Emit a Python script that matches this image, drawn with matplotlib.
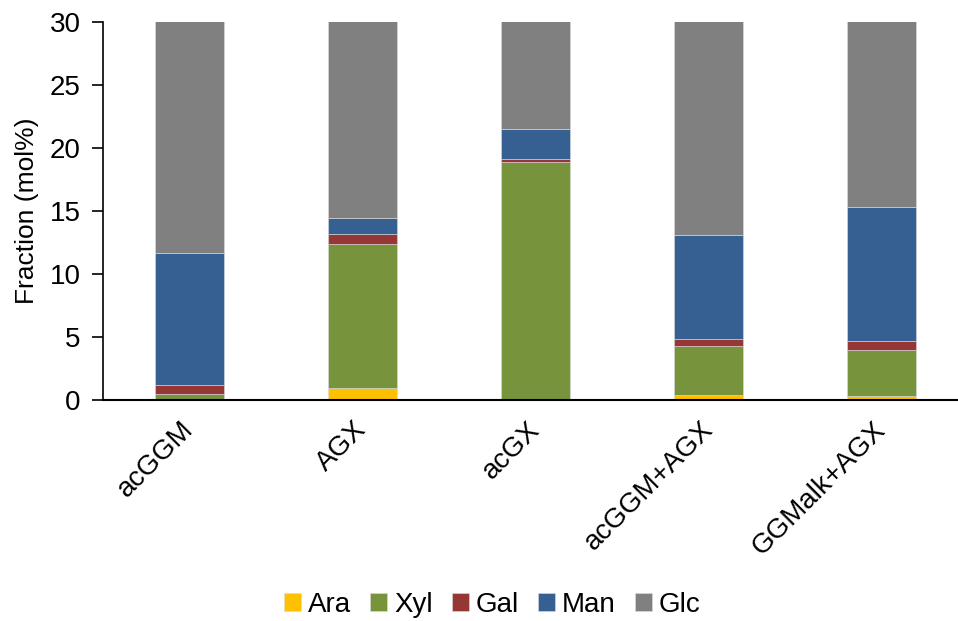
import numpy as np
import matplotlib
matplotlib.use('Agg')
import matplotlib.pyplot as plt
import matplotlib.transforms as mtransforms

plt.rcParams['font.family'] = ['Liberation Sans', 'DejaVu Sans']

samples = ['acGGM', 'AGX', 'acGX', 'acGGM+AGX', 'GGMalk+AGX']
sugars = ['Ara', 'Xyl', 'Gal', 'Man', 'Glc']

# mol% of each monosaccharide per sample (Glc runs past the 30% axis cut)
ara = [0.0, 0.95, 0.0, 0.37, 0.30]
xyl = [0.45, 11.45, 18.85, 3.94, 3.65]
gal = [0.70, 0.80, 0.30, 0.53, 0.73]
man = [10.50, 1.25, 2.35, 8.22, 10.60]
glc = [88.35, 85.55, 78.50, 86.94, 84.72]

colors = ['#FFC000', '#77933C', '#953735', '#376092', '#808080']

fig = plt.figure(figsize=(9.58, 6.21), dpi=100)
ax = fig.add_axes([0.1075, 0.3559, 0.8925, 0.6087])

x = np.arange(len(samples))
bottom = np.zeros(len(samples))
for name, vals, c in zip(sugars, [ara, xyl, gal, man, glc], colors):
    ax.bar(x, vals, width=0.4, bottom=bottom, color=c, label=name,
           edgecolor='#dcdcdc', linewidth=0.4)
    bottom += np.array(vals)

ax.set_ylim(0, 30)
ax.set_xlim(-0.5, 4.44)
ax.set_yticks(np.arange(0, 31, 5))
ax.set_xticks(x)
ax.set_xticklabels(samples, rotation=45, ha='right', rotation_mode='anchor')
ax.tick_params(axis='x', length=0, pad=12, labelsize=20)
ax.tick_params(axis='y', length=8, width=1.2, labelsize=20, direction='out', pad=8)
ax.set_ylabel('Fraction (mol%)', fontsize=19, labelpad=8)

# nudge the slanted category labels a bit to the left
shift = mtransforms.ScaledTranslation(-9 / 100, 0, fig.dpi_scale_trans)
for lab in ax.get_xticklabels():
    lab.set_transform(lab.get_transform() + shift)

for s in ['top', 'right']:
    ax.spines[s].set_visible(False)
ax.spines['left'].set_linewidth(1.2)
ax.spines['bottom'].set_linewidth(1.5)

fig.legend(loc='center', bbox_to_anchor=(0.514, 0.026), ncol=5, frameon=False,
           fontsize=20, handlelength=0.6, handleheight=0.6, handletextpad=0.25,
           columnspacing=0.7)

fig.savefig('out.png', dpi=100)
